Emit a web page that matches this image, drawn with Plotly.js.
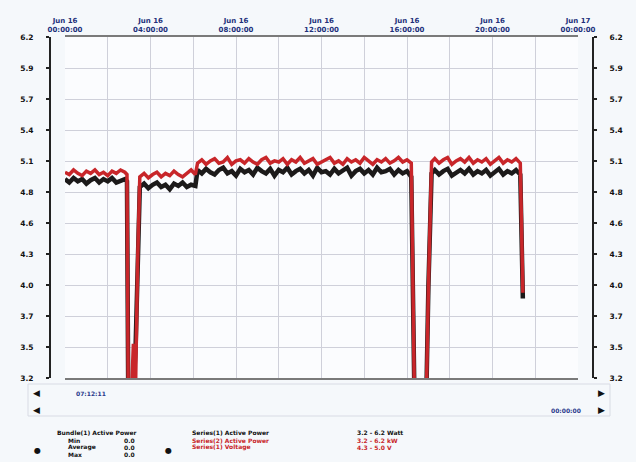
<!DOCTYPE html>
<html><head><meta charset="utf-8">
<script src="https://cdn.plot.ly/plotly-3.0.1.min.js"></script>
<style>html,body{margin:0;padding:0;background:#f5f8fb;}#chart{width:636px;height:462px;}</style>
</head><body><div id="chart"></div>
<script>
// hours since Jun 16 00:00:00
const hours = [
  0,0.2,0.4,0.6,0.8,1.0,1.2,1.4,1.6,1.8,2.0,2.2,2.4,2.6,2.8,2.9,
  2.96,3.1,3.2,3.3,3.4,
  3.5,3.7,3.9,4.1,4.3,4.5,4.7,4.9,5.1,5.3,5.5,5.7,5.9,6.1,
  6.2,6.4,6.6,6.8,7.0,7.2,7.4,7.6,7.8,8.0,8.2,8.4,8.6,8.8,9.0,9.2,9.4,9.6,9.8,10.0,
  10.2,10.4,10.6,10.8,11.0,11.2,11.4,11.6,11.8,12.0,12.2,12.4,12.6,12.8,13.0,13.2,13.4,13.6,13.8,14.0,
  14.2,14.4,14.6,14.8,15.0,15.2,15.4,15.6,15.8,16.0,16.2,
  16.35,16.5,16.9,17.0,
  17.15,17.3,17.5,17.7,17.9,18.1,18.3,18.5,18.7,18.9,19.1,19.3,19.5,19.7,19.9,20.1,20.3,20.5,20.7,20.9,21.1,21.3,
  21.42
];
const redSeries = [
  5.01,4.99,5.03,5.00,4.98,5.02,5.00,5.03,4.99,5.01,4.98,5.02,5.00,5.03,5.01,4.99,
  3.0,3.0,3.5,3.1,4.25,
  4.97,5.00,4.96,4.99,5.01,4.97,5.00,4.98,5.02,4.99,4.97,5.00,5.03,4.99,
  5.09,5.12,5.08,5.11,5.13,5.09,5.10,5.14,5.08,5.11,
  5.12,5.09,5.13,5.10,5.08,5.12,5.14,5.09,5.11,5.10,
  5.13,5.08,5.12,5.10,5.14,5.09,5.11,5.13,5.08,5.10,
  5.12,5.14,5.09,5.11,5.08,5.13,5.10,5.12,5.09,5.14,
  5.11,5.08,5.12,5.10,5.13,5.09,5.11,5.14,5.10,5.12,5.09,
  3.0,3.0,3.0,3.98,
  5.10,5.13,5.09,5.12,5.14,5.08,5.11,5.13,5.10,5.14,5.09,5.12,5.10,5.13,5.08,5.11,5.14,5.09,5.12,5.10,5.13,5.09,
  3.95
];
const blackSeries = [
  4.95,4.92,4.96,4.93,4.95,4.91,4.94,4.96,4.92,4.95,4.93,4.96,4.92,4.94,4.95,4.93,
  3.0,3.0,3.1,3.45,4.3,
  4.88,4.91,4.87,4.90,4.92,4.88,4.90,4.86,4.91,4.89,4.92,4.88,4.90,4.89,
  5.03,5.00,5.04,5.01,4.99,5.03,5.05,5.00,5.02,4.98,
  5.04,5.01,5.03,4.99,5.05,5.02,5.00,5.04,4.98,5.03,
  5.01,5.05,4.99,5.02,5.04,5.00,5.03,4.98,5.05,5.01,
  5.02,4.99,5.04,5.00,5.03,5.05,4.98,5.02,5.04,5.00,
  5.03,4.99,5.05,5.01,5.02,5.04,4.99,5.03,5.00,5.02,4.97,
  3.0,3.0,3.0,4.0,
  5.00,5.03,4.99,5.02,5.04,4.98,5.01,5.03,5.00,5.04,4.99,5.02,5.00,5.03,4.98,5.01,5.04,4.99,5.02,5.00,5.03,4.99,
  3.9
];
const xTickVals = [0,2,4,6,8,10,12,14,16,18,20,22,24];
const xTickText = ['Jun 16<br>00:00:00','','Jun 16<br>04:00:00','','Jun 16<br>08:00:00','','Jun 16<br>12:00:00','',
                   'Jun 16<br>16:00:00','','Jun 16<br>20:00:00','','Jun 17<br>00:00:00'];
const yTickText = ['3.2','3.5','3.7','4.0','4.3','4.6','4.8','5.1','5.4','5.7','5.9','6.2'];
const yMin = 3.2, yMax = 6.2;
const yTickVals = yTickText.map((t,i)=> yMin + i*(yMax-yMin)/(yTickText.length-1));

const W = 636, L = 50, R = 43;
const pw = W - L - R;
const gridC = '#cfd0da';

const traces = [
  {x: hours, y: blackSeries, type:'scatter', mode:'lines', line:{color:'#1c1a1a', width:4.5}, hoverinfo:'skip'},
  {x: hours, y: redSeries, type:'scatter', mode:'lines', line:{color:'#c8262a', width:3.5}, hoverinfo:'skip'},
  {x: hours, y: blackSeries, yaxis:'y2', type:'scatter', mode:'lines', line:{color:'rgba(0,0,0,0)', width:0}, hoverinfo:'skip'}
];
const tf = {family:'DejaVu Sans', size:7.5, color:'#111', weight:'bold'};
const yax = {
  range:[yMin,yMax], tickvals:yTickVals, ticktext:yTickText, anchor:'free', position:0,
  showline:true, linecolor:'#222', linewidth:2, ticks:'outside', ticklen:3, tickcolor:'#222', tickwidth:2,
  showgrid:true, gridcolor:gridC, gridwidth:1, zeroline:false, tickfont:tf, ticklabelstandoff:11, fixedrange:true
};
const yax2 = Object.assign({}, yax, {overlaying:'y', side:'right', position:1, showgrid:false});
const ann = [];
// y in paper: plot area from y=37 to 378 -> 341 px
function txt2(x,y,t,c,s,anchor){ann.push({xref:'paper',yref:'paper',x:(x-L)/pw,y:(378-y)/341,
  text:t,showarrow:false,xanchor:anchor||'left',yanchor:'middle',font:{family:'DejaVu Sans',size:s||6,color:c||'#111',weight:'bold'}});}
txt2(36,393,'◀','#111',9,'center');
txt2(36,410,'◀','#111',9,'center');
txt2(601,393,'▶','#111',9,'center');
txt2(601,410,'▶','#111',9,'center');
txt2(74,393,'07:12:11','#2a3a8c',6);
txt2(583,410,'00:00:00','#2a3a8c',6,'right');
txt2(55,432,'Bundle(1) Active Power','#111',6);
txt2(66,440,'Min','#111',6);
txt2(66,447,'Average','#111',6);
txt2(66,454,'Max','#111',6);
txt2(122,440,'0.0','#111',6);
txt2(122,447,'0.0','#111',6);
txt2(122,454,'0.0','#111',6);
txt2(37,450,'●','#111',8,'center');
txt2(168,450,'●','#111',8,'center');
txt2(190,432,'Series(1) Active Power','#111',6);
txt2(190,440,'Series(2) Active Power','#c8262a',6);
txt2(190,447,'Series(1) Voltage','#c8262a',6);
txt2(355,432,'3.2 - 6.2 Watt','#111',6);
txt2(355,440,'3.2 - 6.2 kW','#c8262a',6);
txt2(355,447,'4.3 - 5.0 V','#c8262a',6);

const shapes = [
  {type:'rect', xref:'paper', yref:'paper', x0:(28-L)/pw, x1:(610-L)/pw, y0:(378-416)/341, y1:(378-384)/341,
   line:{color:'#d8dbe4', width:1}, fillcolor:'rgba(0,0,0,0)'}
];

const layout = {
  width:636, height:462, margin:{l:L, r:R, t:37, b:84},
  paper_bgcolor:'#f5f8fb', plot_bgcolor:'#fbfcfe', showlegend:false,
  xaxis:{range:[0,24], domain:[15/pw, 528/pw], side:'top', tickvals:xTickVals, ticktext:xTickText,
    tickfont:{family:'DejaVu Sans', size:7, color:'#22307a', weight:'bold'}, ticks:'',
    showgrid:true, gridcolor:gridC, gridwidth:1, zeroline:false,
    showline:true, mirror:true, linecolor:'#7a7a7a', linewidth:2, fixedrange:true},
  yaxis:yax, yaxis2:yax2,
  annotations:ann, shapes:shapes
};
Plotly.newPlot('chart', traces, layout, {displayModeBar:false, staticPlot:true});
</script></body></html>
